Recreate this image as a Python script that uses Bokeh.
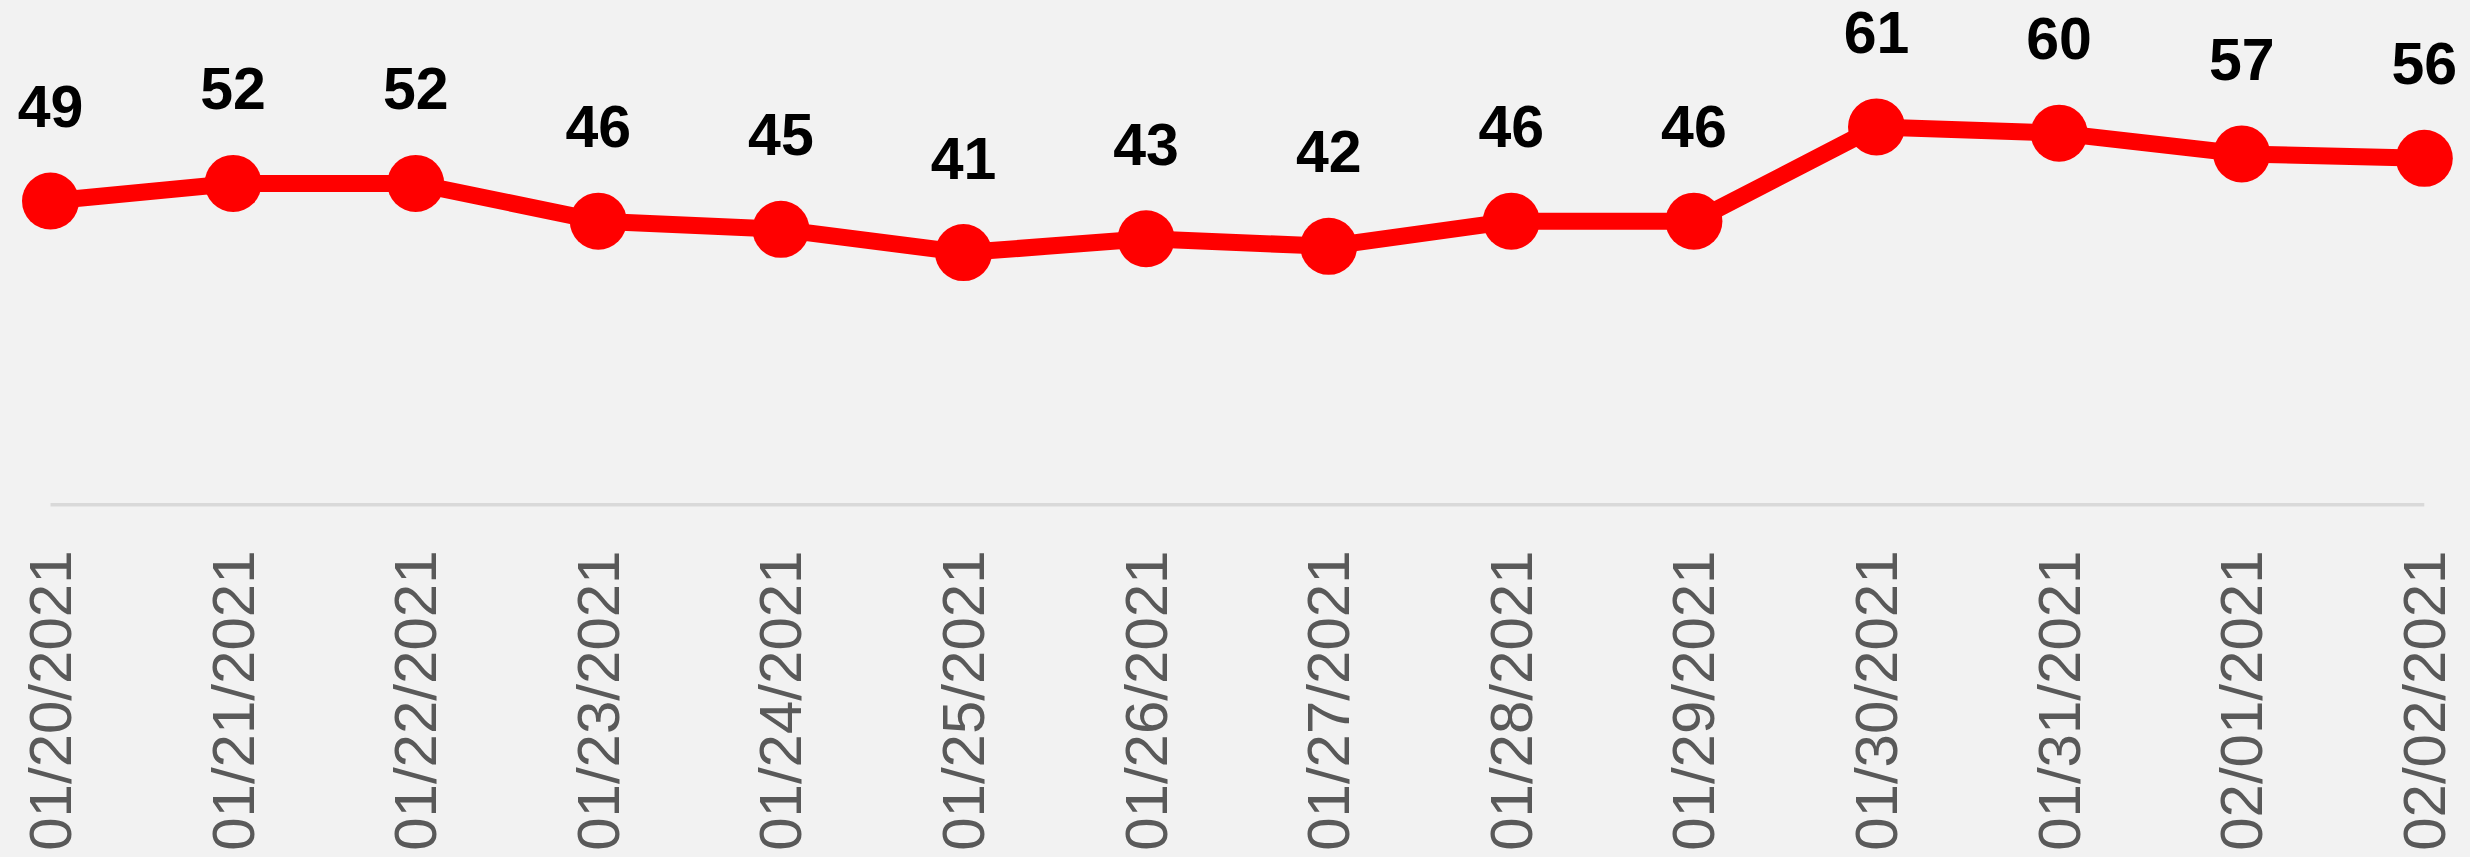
import math
from bokeh.plotting import figure
from bokeh.models import ColumnDataSource, Range1d, FixedTicker, LabelSet
from bokeh.core.properties import value
from bokeh.embed import file_html
from bokeh.resources import INLINE

# ---- data ----
dates = ["01/20/2021", "01/21/2021", "01/22/2021", "01/23/2021", "01/24/2021",
         "01/25/2021", "01/26/2021", "01/27/2021", "01/28/2021", "01/29/2021",
         "01/30/2021", "01/31/2021", "02/01/2021", "02/02/2021"]
values = [49.2, 52, 52, 46, 44.7, 41, 43.2, 42, 46, 46, 61, 60, 56.7, 56]
labels = ["49", "52", "52", "46", "45", "41", "43", "42", "46", "46",
          "61", "60", "57", "56"]

W, H = 2470, 857
PX = 182.6          # pixels per category step
PY = 6.285          # pixels per value unit
LEFT = 50           # pixel of first category inside the figure
BOTTOM_BORDER = 351
Y0 = 0.6

xs = list(range(len(dates)))
src = ColumnDataSource(dict(x=xs, y=values, lab=labels))

p = figure(width=W, height=H, output_backend="svg", toolbar_location=None,
           x_range=Range1d(-LEFT / PX, (W - LEFT) / PX),
           y_range=Range1d(Y0, Y0 + (H - BOTTOM_BORDER) / PY),
           min_border_left=0, min_border_right=0, min_border_top=0,
           min_border_bottom=BOTTOM_BORDER)

bg = "#f2f2f2"
p.background_fill_color = bg
p.border_fill_color = bg
p.outline_line_color = None
p.xgrid.visible = False
p.ygrid.visible = False
p.yaxis.visible = False

ax = p.xaxis[0]
ax.ticker = FixedTicker(ticks=xs)
ax.major_label_overrides = {i: d for i, d in enumerate(dates)}
ax.major_label_orientation = math.pi / 2
ax.axis_line_color = None
ax.major_tick_line_color = None
ax.minor_tick_line_color = None
ax.major_tick_in = 0
ax.major_tick_out = 0
ax.major_label_standoff = 44
ax.major_label_text_font = "Liberation Sans"
ax.major_label_text_font_size = "60px"
ax.major_label_text_color = "#595959"

# category axis line
p.segment(x0=[xs[0]], y0=[Y0], x1=[xs[-1]], y1=[Y0],
          line_color="#d9d9d9", line_width=7)

p.line("x", "y", source=src, line_color="#ff0000", line_width=17,
       line_join="round")
p.scatter("x", "y", source=src, size=57, fill_color="#ff0000",
          line_color=None)

lbl = LabelSet(x="x", y="y", text="lab", source=src, y_offset=74,
               text_align="center", text_baseline="alphabetic",
               text_font=value("Liberation Sans"), text_font_style="bold",
               text_font_size="59px", text_color="#000000")
p.add_layout(lbl)

html = file_html(p, INLINE)
html = html.replace("</head>", "<style>body{background:#f2f2f2;}</style></head>", 1)
open("out.html", "w").write(html)
